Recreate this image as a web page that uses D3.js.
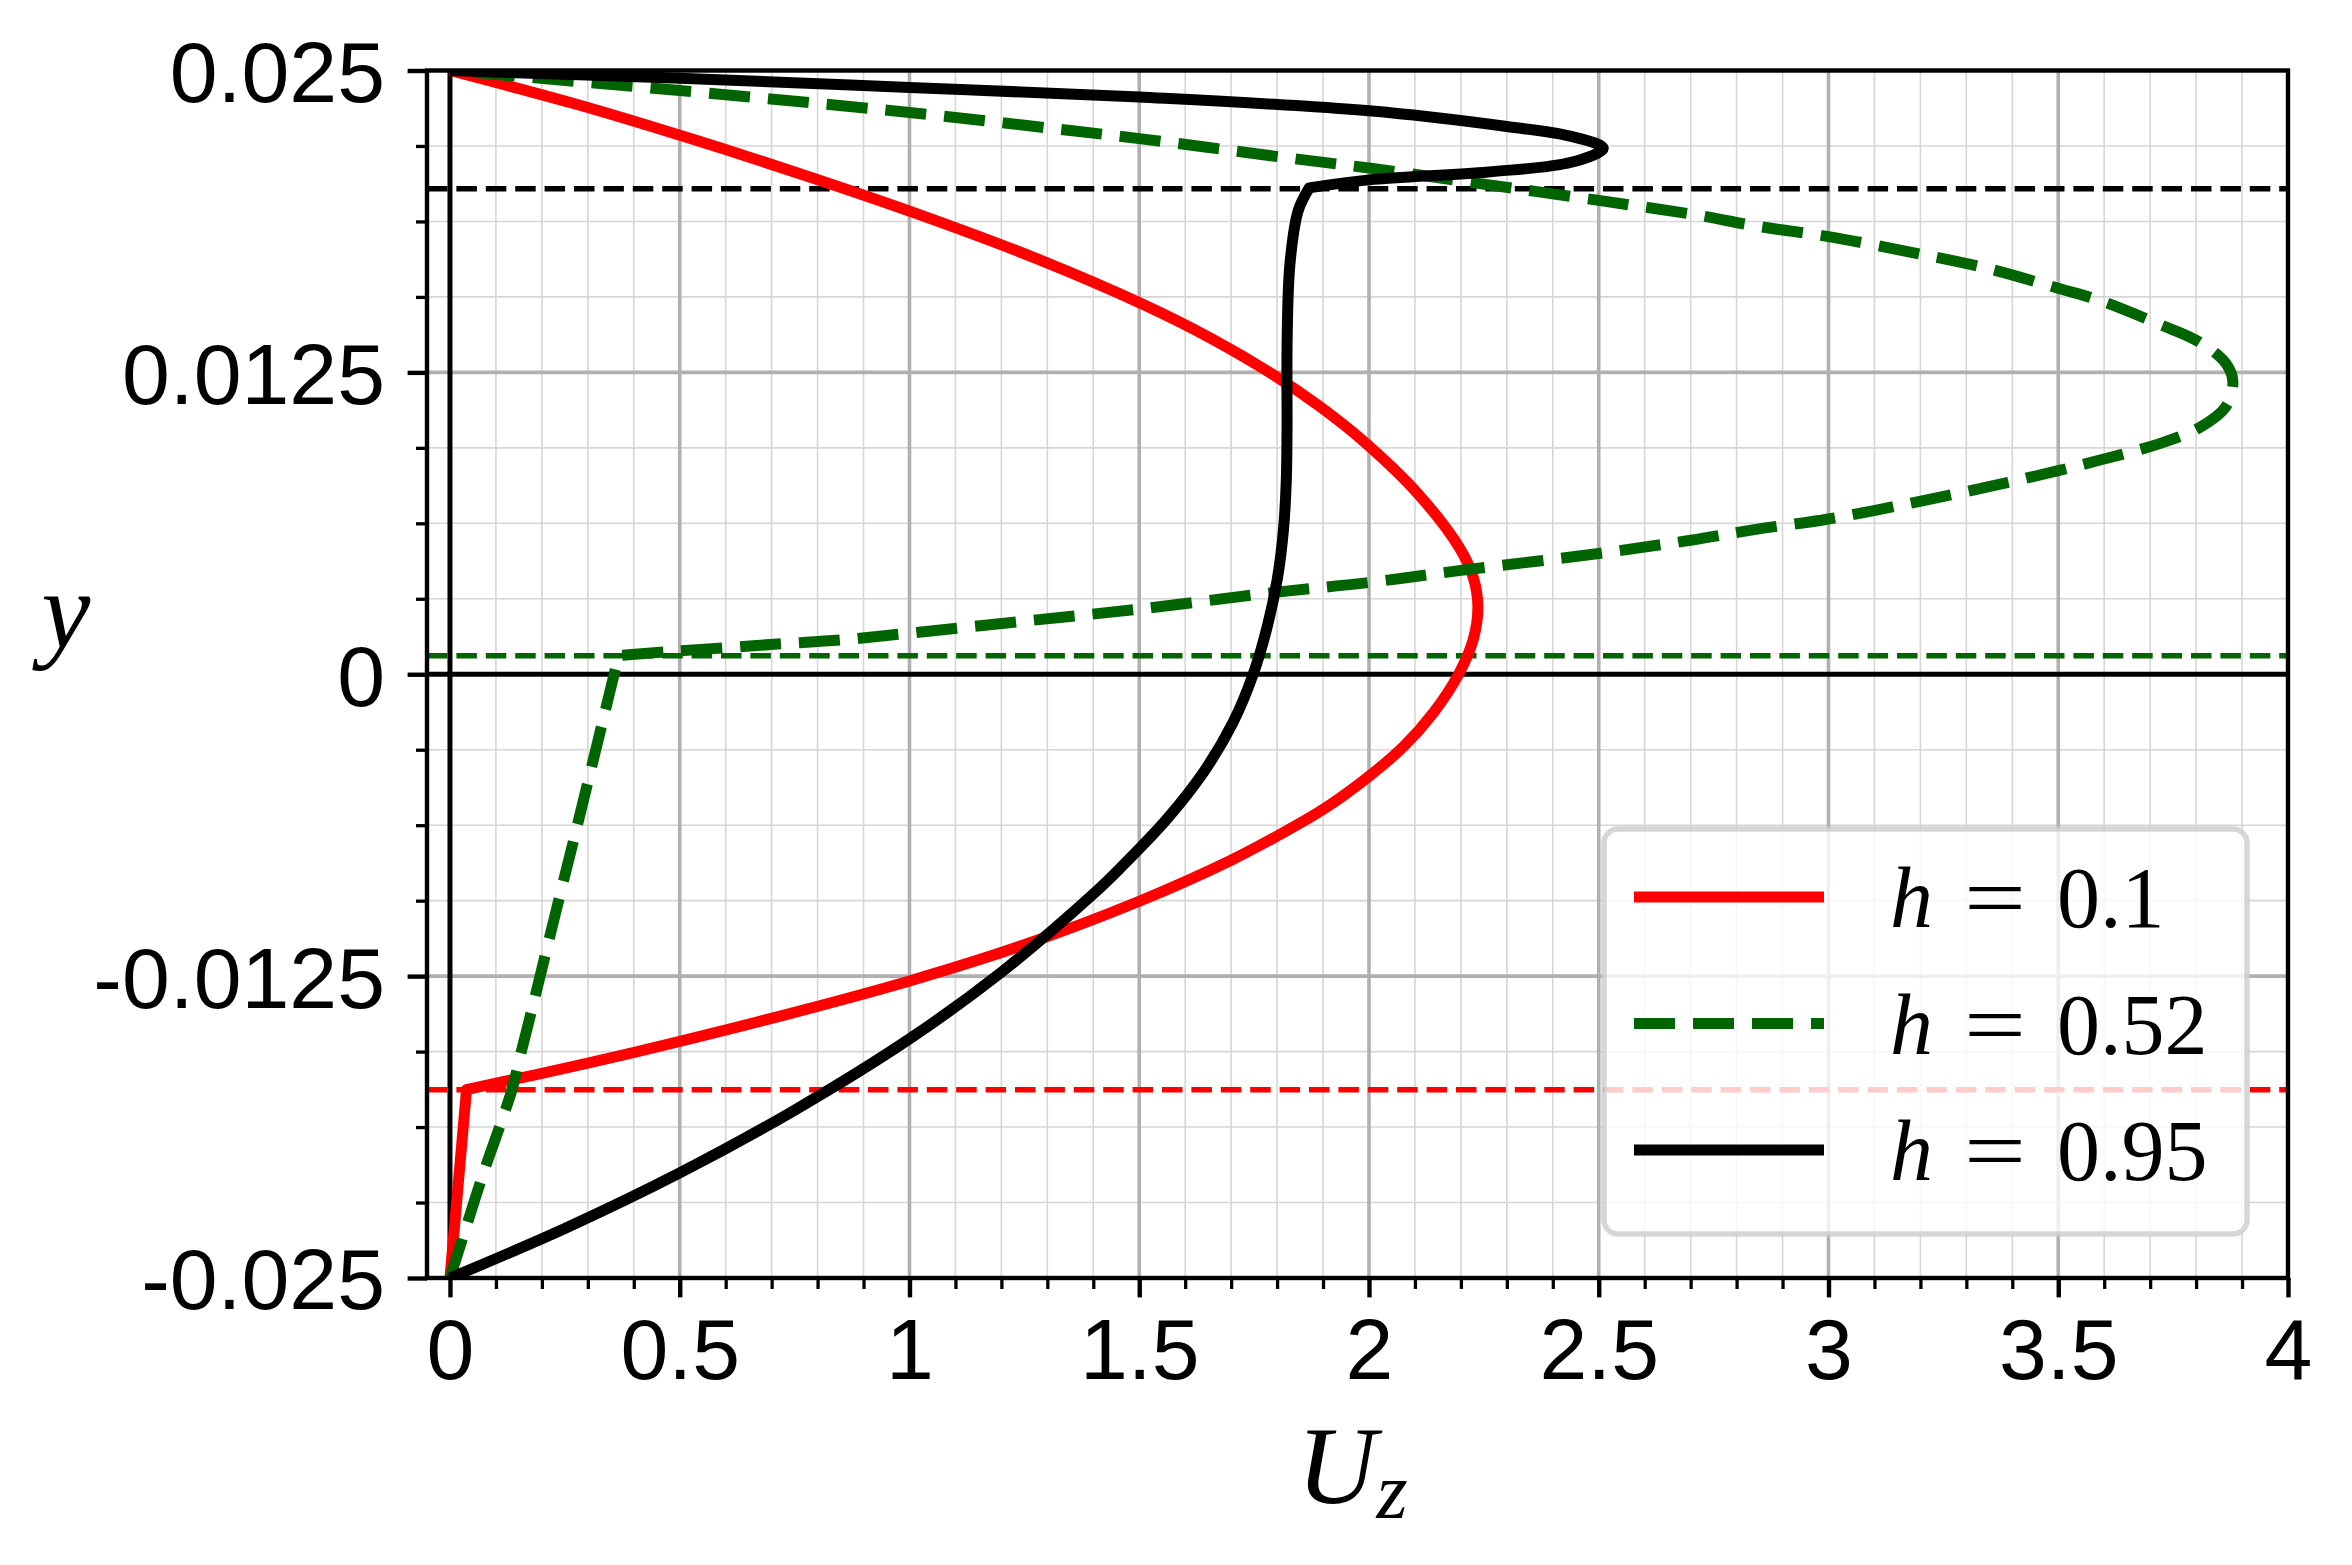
<!DOCTYPE html>
<html><head><meta charset="utf-8">
<script src="https://cdn.jsdelivr.net/npm/d3@7"></script>
<style>body{margin:0;background:#fff} svg{display:block}</style>
</head><body>
<svg id="chart" width="2352" height="1565"></svg>
<script>
// ---------- data ----------
const xTicks = [0, 0.5, 1, 1.5, 2, 2.5, 3, 3.5, 4];
const xTickLabels = ["0", "0.5", "1", "1.5", "2", "2.5", "3", "3.5", "4"];
const yTicks = [-0.025, -0.0125, 0, 0.0125, 0.025];
const yTickLabels = ["-0.025", "-0.0125", "0", "0.0125", "0.025"];
const hValues = ["0.1", "0.52", "0.95"];
const interfaceY = [-0.0172, 0.00077, 0.0201];

// h = 0.1 (kink at index 1)
const redU = [0, 0.036, 0.3, 0.5, 0.75, 1.0, 1.25, 1.5, 1.7, 1.8, 1.9, 1.995, 2.075, 2.14, 2.195, 2.227, 2.237, 2.227, 2.198, 2.110, 1.991, 1.892, 1.792, 1.657, 1.51, 1.278, 1.026, 0.781, 0.52, 0.275, 0];
const redY = [-0.025, -0.0172, -0.0161, -0.0152, -0.0140, -0.0127, -0.0112, -0.0094, -0.0077, -0.0067, -0.0056, -0.0043, -0.0030, -0.0016, 0, 0.00145, 0.0028, 0.0040, 0.0052, 0.0074, 0.0096, 0.0111, 0.0124, 0.0139, 0.0153, 0.0172, 0.0190, 0.0206, 0.0222, 0.0236, 0.025];

// h = 0.52 (kink at index 12)
const greenU = [0, 0.030, 0.072, 0.116, 0.135, 0.153, 0.182, 0.209, 0.240, 0.270, 0.301, 0.333, 0.367, 0.47, 0.6, 0.72, 0.85, 1.0, 1.25, 1.5, 1.8, 2.0, 2.2, 2.5, 2.7, 2.842, 3.0, 3.183, 3.349, 3.5, 3.593, 3.719, 3.807, 3.865, 3.88, 3.865, 3.807, 3.719, 3.593, 3.5, 3.349, 3.183, 3.0, 2.842, 2.715, 2.5, 2.217, 2.0, 1.828, 1.5, 1.26, 1.0, 0.5, 0];
const greenY = [-0.025, -0.0232, -0.0207, -0.0183, -0.0172, -0.0158, -0.0136, -0.0115, -0.0091, -0.0068, -0.0044, -0.0019, 0.00077, 0.00093, 0.0011, 0.00126, 0.00142, 0.0017, 0.0022, 0.0027, 0.0034, 0.0038, 0.0043, 0.0050, 0.00555, 0.0060, 0.00643, 0.0071, 0.00777, 0.00843, 0.00888, 0.00954, 0.01021, 0.01109, 0.01213, 0.01287, 0.01376, 0.0145, 0.01546, 0.01598, 0.01679, 0.01746, 0.01812, 0.01856, 0.01901, 0.01962, 0.02038, 0.02096, 0.02137, 0.02218, 0.02271, 0.02326, 0.02417, 0.025];

// h = 0.95 (kink at index 20)
const blackU = [0, 0.25, 0.5, 0.75, 1.0, 1.2, 1.4, 1.46, 1.56, 1.642, 1.704, 1.748, 1.779, 1.801, 1.814, 1.820, 1.8216, 1.822, 1.828, 1.846, 1.87, 2.0, 2.26, 2.44, 2.51, 2.44, 2.3, 2.0, 1.5, 1.0, 0.5, 0];
const blackY = [-0.025, -0.02295, -0.02065, -0.01805, -0.0151, -0.01234, -0.0091, -0.008, -0.006, -0.004, -0.002, 0, 0.002, 0.004, 0.006, 0.008, 0.010, 0.014, 0.017, 0.0192, 0.02014, 0.02047, 0.0208, 0.0212, 0.02178, 0.02227, 0.02268, 0.02333, 0.0239, 0.0243, 0.02468, 0.025];

// ---------- layout ----------
const L = 427, R = 2288, T = 70.5, B = 1278;
const svg = d3.select("#chart");
const x = d3.scaleLinear().domain([-0.05, 4]).range([L, R]);
const y = d3.scaleLinear().domain([-0.025, 0.025]).range([B, T]);

svg.append("defs").append("clipPath").attr("id", "clip")
  .append("rect").attr("x", L).attr("y", T).attr("width", R - L).attr("height", B - T);

const xMinor = d3.range(1, 40).map(i => i / 10).filter(v => Math.abs(v * 2 - Math.round(v * 2)) > 1e-6);
const yMinor = d3.range(-7, 8).map(i => i * 0.003125).filter(v => Math.abs(v / 0.0125 - Math.round(v / 0.0125)) > 1e-6);

const grid = svg.append("g");
grid.selectAll(".gxm").data(xMinor).join("line")
  .attr("x1", d => x(d)).attr("x2", d => x(d)).attr("y1", T).attr("y2", B)
  .attr("stroke", "#d6d6d6").attr("stroke-width", 1.6);
grid.selectAll(".gym").data(yMinor).join("line")
  .attr("y1", d => y(d)).attr("y2", d => y(d)).attr("x1", L).attr("x2", R)
  .attr("stroke", "#d6d6d6").attr("stroke-width", 1.6);
grid.selectAll(".gxM").data(xTicks).join("line")
  .attr("x1", d => x(d)).attr("x2", d => x(d)).attr("y1", T).attr("y2", B)
  .attr("stroke", "#b0b0b0").attr("stroke-width", 3.6);
grid.selectAll(".gyM").data(yTicks).join("line")
  .attr("y1", d => y(d)).attr("y2", d => y(d)).attr("x1", L).attr("x2", R)
  .attr("stroke", "#b0b0b0").attr("stroke-width", 3.6);

// reference lines x=0, y=0
const plot = svg.append("g").attr("clip-path", "url(#clip)");
plot.append("line").attr("x1", x(0)).attr("x2", x(0)).attr("y1", T).attr("y2", B)
  .attr("stroke", "#000").attr("stroke-width", 5);
plot.append("line").attr("x1", L).attr("x2", R).attr("y1", y(0)).attr("y2", y(0))
  .attr("stroke", "#000").attr("stroke-width", 5);

const colors = ["#ff0000", "#006400", "#000000"];
plot.selectAll(".iface").data(interfaceY).join("line")
  .attr("x1", L).attr("x2", R).attr("y1", d => y(d)).attr("y2", d => y(d))
  .attr("stroke", (d, i) => colors[i]).attr("stroke-width", 5.5)
  .attr("stroke-dasharray", "20.5 8.9");

const series = [
  { u: redU, v: redY, color: colors[0], dash: null, kink: 1 },
  { u: greenU, v: greenY, color: colors[1], dash: "41 18", kink: 12 },
  { u: blackU, v: blackY, color: colors[2], dash: null, kink: 20 }
];
const smooth = d3.line().x(d => x(d[0])).y(d => y(d[1])).curve(d3.curveCatmullRom.alpha(0.5));
function profilePath(s) {
  const pts = s.u.map((u, i) => [u, s.v[i]]);
  const a = smooth(pts.slice(0, s.kink + 1));
  const b = smooth(pts.slice(s.kink));
  return a + b.replace(/^M/, "L");
}
series.forEach(s => {
  plot.append("path").attr("d", profilePath(s)).attr("fill", "none").attr("stroke", s.color)
    .attr("stroke-width", 11).attr("stroke-linejoin", "round")
    .attr("stroke-dasharray", s.dash);
});

// spines
svg.append("rect").attr("x", L).attr("y", T).attr("width", R - L).attr("height", B - T)
  .attr("fill", "none").attr("stroke", "#000").attr("stroke-width", 4.4);

// axes
const fontTick = "'Liberation Sans', Arial, Helvetica, sans-serif";
const xAxis = svg.append("g").attr("transform", `translate(0,${B})`)
  .call(d3.axisBottom(x).tickValues(xTicks).tickFormat((d, i) => xTickLabels[i]).tickSize(19.4).tickPadding(20.6));
const xAxisMinor = svg.append("g").attr("transform", `translate(0,${B})`)
  .call(d3.axisBottom(x).tickValues(xMinor).tickFormat("").tickSize(11));
const yAxis = svg.append("g").attr("transform", `translate(${L},0)`)
  .call(d3.axisLeft(y).tickValues(yTicks).tickFormat((d, i) => yTickLabels[i]).tickSize(19.4).tickPadding(22.6));
const yAxisMinor = svg.append("g").attr("transform", `translate(${L},0)`)
  .call(d3.axisLeft(y).tickValues(yMinor).tickFormat("").tickSize(11));
[xAxis, xAxisMinor, yAxis, yAxisMinor].forEach(g => g.select(".domain").remove());
[xAxis, yAxis].forEach(g => g.selectAll(".tick line").attr("stroke", "#000").attr("stroke-width", 4.4));
[xAxisMinor, yAxisMinor].forEach(g => g.selectAll(".tick line").attr("stroke", "#000").attr("stroke-width", 3.3));
[xAxis, yAxis].forEach(g => g.selectAll(".tick text").attr("font-family", fontTick).attr("font-size", 86).attr("fill", "#000"));
yAxis.selectAll(".tick text").attr("dy", "0.36em");

// axis labels
const serif = "'Liberation Serif', 'Times New Roman', serif";
svg.append("text").attr("x", 66).attr("y", 648).attr("text-anchor", "middle")
  .attr("font-family", serif).attr("font-style", "italic").attr("font-size", 110).text("y");
const ux = svg.append("text").attr("x", 1297).attr("y", 1503)
  .attr("font-family", serif).attr("font-style", "italic").attr("font-size", 110);
ux.append("tspan").text("U");
ux.append("tspan").attr("font-size", 80).attr("dy", 15).text("z");

// legend
const leg = svg.append("g");
leg.append("rect").attr("x", 1604).attr("y", 829).attr("width", 643).attr("height", 405).attr("rx", 14)
  .attr("fill", "#fff").attr("fill-opacity", 0.8).attr("stroke", "#cccccc").attr("stroke-opacity", 0.8).attr("stroke-width", 5.5);
const rowY = [897, 1023.5, 1150];
series.forEach((s, i) => {
  leg.append("line").attr("x1", 1634).attr("x2", 1824).attr("y1", rowY[i]).attr("y2", rowY[i])
    .attr("stroke", s.color).attr("stroke-width", 11).attr("stroke-dasharray", s.dash);
  leg.append("text").attr("x", 1890).attr("y", rowY[i] + 30).attr("font-family", serif).attr("font-size", 86)
    .attr("font-style", "italic").text("h");
  leg.append("text").attr("x", 1964).attr("y", rowY[i] + 30).attr("font-family", serif).attr("font-size", 86)
    .attr("textLength", 62).attr("lengthAdjust", "spacingAndGlyphs").text("=");
  leg.append("text").attr("x", 2057).attr("y", rowY[i] + 30).attr("font-family", serif).attr("font-size", 86)
    .text(hValues[i]);
});
</script>
</body></html>
